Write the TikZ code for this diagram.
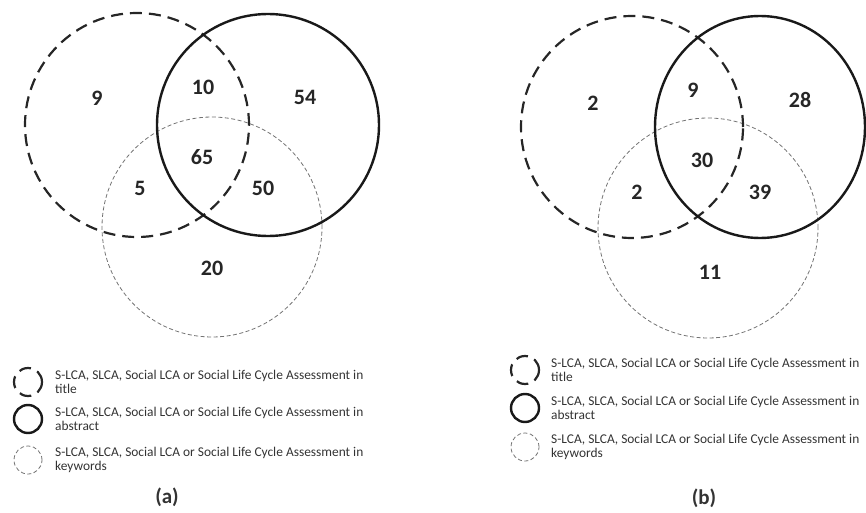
\documentclass[tikz,border=0pt]{standalone}
\usepackage{fontspec}
\setmainfont{Carlito}
\begin{document}
\begin{tikzpicture}[x=1pt, y=-1pt,
    titolo/.style={draw=black!85, line width=2.2pt, dash pattern=on 12pt off 7pt},
    abstract/.style={draw=black!90, line width=2.4pt},
    keywords/.style={draw=black!55, line width=0.8pt, dash pattern=on 4pt off 2.5pt},
    numero/.style={font=\fontsize{22}{24}\selectfont\bfseries, text=black!85, inner sep=0pt},
    icona/.style={circle, minimum size=28pt, inner sep=0pt},
    legenda/.style={font=\fontsize{13.4}{14.5}\selectfont, text=black!80, anchor=west, align=left, inner sep=0pt},
    didascalia/.style={font=\fontsize{21}{22}\selectfont\bfseries, text=black!80, inner sep=0pt}]

    % Area della figura (stesse proporzioni del riferimento)
    \useasboundingbox (0,0) rectangle (866,513);

    % Centri degli insiemi: T = titolo, A = abstract, K = keywords
    \coordinate (Ta) at (137,125);
    \coordinate (Aa) at (268,125);
    \coordinate (Ka) at (212,227);
    \coordinate (Tb) at (632,127);
    \coordinate (Ab) at (760,127);
    \coordinate (Kb) at (708,228);

    % Cerchi del pannello (a)
    \draw[keywords] (Ka) circle (110pt);
    \draw[titolo] (Ta) circle (112pt);
    \draw[abstract] (Aa) circle (111pt);

    % Cerchi del pannello (b)
    \draw[keywords] (Kb) circle (110pt);
    \draw[titolo] (Tb) circle (111pt);
    \draw[abstract] (Ab) ellipse (105pt and 111pt);

    % Numeri delle regioni
    \foreach \n/\x/\y [count=\i] in {9/97/98, 10/203/87, 54/305/97, 65/202/157, 5/140/188, 50/263/188, 20/212/268} {
        \node[numero] (na\i) at (\x,\y) {\n};
    }
    \foreach \n/\x/\y [count=\i] in {2/593/103, 9/693/90, 28/800/100, 30/702/160, 2/637/192, 39/760/192, 11/710/272} {
        \node[numero] (nb\i) at (\x,\y) {\n};
    }

    % Legende
    \foreach \stile/\riga/\y [count=\i] in {titolo/title/382, abstract/abstract/419, keywords/keywords/460} {
        \node[icona, \stile] (ia\i) at (28,\y) {};
        \node[legenda] (la\i) at (55,\y) {S-LCA, SLCA, Social LCA or Social Life Cycle Assessment in\\\riga};
    }
    \foreach \stile/\riga/\y [count=\i] in {titolo/title/370, abstract/abstract/408, keywords/keywords/447} {
        \node[icona, \stile] (ib\i) at (525,\y) {};
        \node[legenda] (lb\i) at (551,\y) {S-LCA, SLCA, Social LCA or Social Life Cycle Assessment in\\\riga};
    }

    % Didascalie
    \node[didascalia] (capa) at (167,497) {(a)};
    \node[didascalia] (capb) at (704,498) {(b)};

\end{tikzpicture}
\end{document}
